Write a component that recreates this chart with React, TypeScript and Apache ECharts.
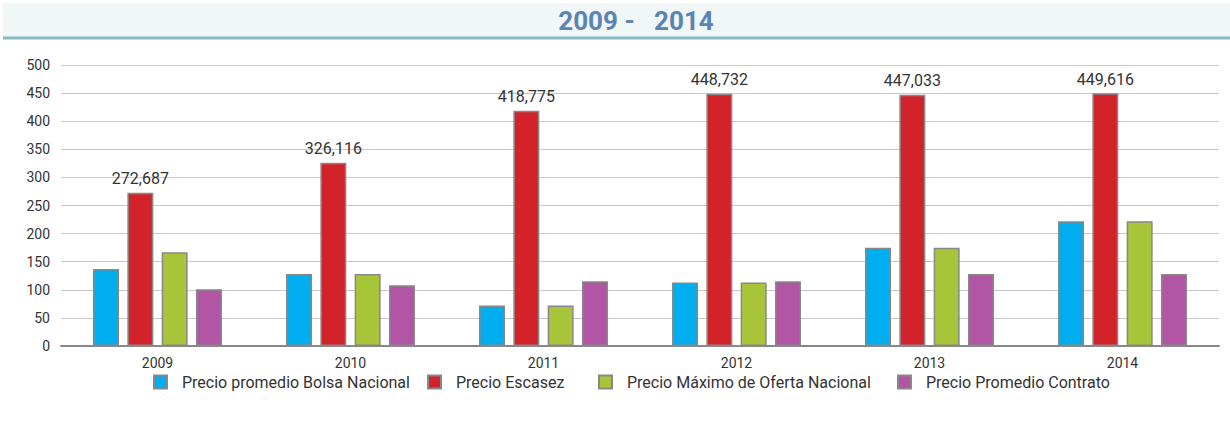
import React, { useEffect, useRef } from "react";
import * as echarts from "echarts";

const categories = ["2009", "2010", "2011", "2012", "2013", "2014"];
const seriesNames = [
  "Precio promedio Bolsa Nacional",
  "Precio Escasez",
  "Precio Máximo de Oferta Nacional",
  "Precio Promedio Contrato",
];
const bolsaNacional = [137, 128, 72, 113, 175, 222];
const escasez = [272.687, 326.116, 418.775, 448.732, 447.033, 449.616];
const maximoOferta = [167, 128, 72, 113, 175, 222];
const promedioContrato = [101, 108, 115, 115, 128, 128];
const yTicks = { min: 0, max: 500, interval: 50 };
const titleText = "2009 -   2014";

const colors = ["#00adef", "#d2232a", "#a8c539", "#b155a4"];
const legendLefts = [153, 427, 598, 897];

export default function App() {
  const ref = useRef<HTMLDivElement>(null);
  useEffect(() => {
    if (!ref.current) return;
    const chart = echarts.init(ref.current, undefined, { renderer: "svg" });
    const values = [bolsaNacional, escasez, maximoOferta, promedioContrato];
    const font = "Roboto";
    chart.setOption({
      animation: false,
      backgroundColor: "#ffffff",
      textStyle: { fontFamily: font },
      graphic: [
        {
          type: "rect",
          shape: { x: 3, y: 3, width: 1227, height: 34 },
          style: { fill: "#f1f6f6" },
          silent: true,
        },
        {
          type: "line",
          shape: { x1: 3, y1: 38, x2: 1230, y2: 38 },
          style: { stroke: "#86bcc1", lineWidth: 3 },
          silent: true,
        },
        {
          type: "text",
          x: 636,
          y: 21,
          style: {
            text: titleText,
            fill: "#5a84b5",
            font: "bold 26px Roboto, sans-serif",
            align: "center",
            verticalAlign: "middle",
          },
          silent: true,
        },
      ],
      grid: { left: 61, right: 11, top: 65, bottom: 75, containLabel: false },
      legend: seriesNames.map((name, i) => ({
        top: 374,
        left: legendLefts[i],
        padding: 0,
        itemWidth: 13,
        itemHeight: 13,
        icon: "rect",
        textStyle: { color: "#333", fontSize: 16, fontFamily: font, padding: [0, 0, 0, 10] },
        data: [name],
      })),
      xAxis: {
        type: "category",
        data: categories,
        axisLine: { show: true, lineStyle: { color: "#888", width: 2 } },
        axisTick: { show: false },
        axisLabel: { color: "#333", fontSize: 14, margin: 10, fontFamily: font },
      },
      yAxis: {
        type: "value",
        min: yTicks.min,
        max: yTicks.max,
        interval: yTicks.interval,
        axisLine: { show: false },
        axisTick: { show: false },
        axisLabel: { color: "#333", fontSize: 14, margin: 11, fontFamily: font },
        splitLine: { lineStyle: { color: "#c8c8c8", width: 1 } },
      },
      series: seriesNames.map((name, i) => ({
        name,
        type: "bar",
        data: values[i],
        barWidth: 26,
        barGap: "32%",
        itemStyle: { color: colors[i], borderColor: "#888", borderWidth: 1.5 },
        label:
          i === 1
            ? {
                show: true,
                position: "top",
                distance: 6,
                color: "#333",
                fontSize: 16,
                fontFamily: font,
                formatter: (p: any) => p.value.toFixed(3).replace(".", ","),
              }
            : { show: false },
      })),
    });
    return () => chart.dispose();
  }, []);
  return (
    <div
      ref={ref}
      style={{ position: "absolute", left: 0, top: 0, width: 1230, height: 421 }}
    />
  );
}
